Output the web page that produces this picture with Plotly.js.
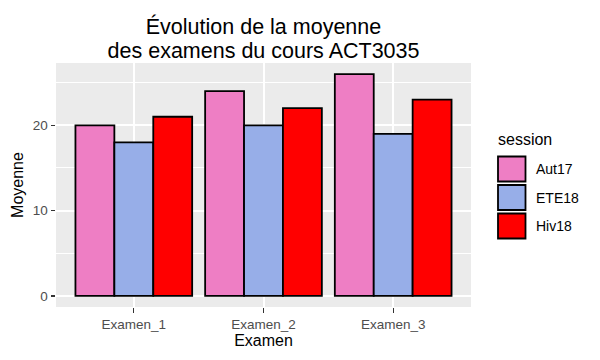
<!DOCTYPE html>
<html>
<head>
<meta charset="utf-8">
<script src="https://cdn.plot.ly/plotly-3.0.1.min.js"></script>
<style>html,body{margin:0;padding:0;background:#fff}#chart{width:600px;height:360px}</style>
</head>
<body>
<div id="chart"></div>
<script>
const examens = ["Examen_1", "Examen_2", "Examen_3"];
const sessions = ["Aut17", "ETE18", "Hiv18"];
const aut17 = [20, 24, 26];
const ete18 = [18, 20, 19];
const hiv18 = [21, 22, 23];
const colors = ["#EE7EC4", "#97AEE8", "#FF0000"];
const series = [aut17, ete18, hiv18];
const titleLines = ["Évolution de la moyenne", "des examens du cours ACT3035"];

const W = 600, H = 360;
const L = 56, R = 129, T = 63, B = 53;
const pw = W - L - R, ph = H - T - B;
const px = x => (x - L) / pw;
const py = y => (H - B - y) / ph;
const FONT = "Liberation Sans, Arial, sans-serif";

const traces = series.map((vals, i) => ({
  type: "bar",
  x: examens,
  y: vals,
  name: sessions[i],
  marker: {color: colors[i], line: {color: "#000", width: 1.8}},
  showlegend: false,
  hoverinfo: "x+y+name"
}));

const shapes = [];
const annotations = [];
annotations.push({
  xref: "paper", yref: "paper", x: px(496), y: py(139),
  xanchor: "left", yanchor: "middle", showarrow: false,
  text: "session", font: {family: FONT, size: 16, color: "#000"}
});
sessions.forEach((s, i) => {
  const top = 156.5 + i * 28.5;
  shapes.push({
    type: "rect", xref: "paper", yref: "paper",
    x0: px(498), x1: px(525.5), y0: py(top + 25), y1: py(top),
    fillcolor: colors[i], line: {color: "#000", width: 1.8}
  });
  annotations.push({
    xref: "paper", yref: "paper", x: px(534), y: py(top + 12.5),
    xanchor: "left", yanchor: "middle", showarrow: false,
    text: s, font: {family: FONT, size: 14, color: "#000"}
  });
});

const layout = {
  width: W, height: H,
  margin: {l: L, r: R, t: T, b: B, pad: 0},
  paper_bgcolor: "#fff",
  plot_bgcolor: "#EBEBEB",
  font: {family: FONT},
  title: {
    text: titleLines.map(t => '<span style="font-size:21.5px">' + t + '</span>').join("<br>"),
    xref: "paper", x: 0.5, xanchor: "center",
    yref: "container", y: 1 - 34 / H, yanchor: "middle",
    font: {size: 18.3, color: "#000"}
  },
  barmode: "group",
  bargap: 0.1,
  bargroupgap: 0,
  xaxis: {
    type: "category",
    range: [-0.6, 2.6],
    showgrid: true, gridcolor: "#fff", gridwidth: 2,
    zeroline: false, showline: false,
    ticks: "outside", ticklen: 4.5, tickwidth: 1.2, tickcolor: "#333",
    tickfont: {size: 13.5, color: "#4D4D4D"},
    title: {text: "Examen", font: {size: 16, color: "#000"}, standoff: 3},
    fixedrange: true
  },
  yaxis: {
    range: [-1.3, 27.3],
    tickvals: [0, 10, 20],
    ticktext: ["0", "10", "20"],
    showgrid: true, gridcolor: "#fff", gridwidth: 2,
    minor: {tickvals: [5, 15, 25], showgrid: true, gridcolor: "#fff", gridwidth: 1, ticks: ""},
    zeroline: false, showline: false,
    ticks: "outside", ticklen: 4.5, tickwidth: 1.2, tickcolor: "#333",
    tickfont: {size: 13.5, color: "#4D4D4D"},
    title: {text: "Moyenne", font: {size: 16, color: "#000"}, standoff: 5},
    fixedrange: true
  },
  shapes: shapes,
  annotations: annotations
};

Plotly.newPlot("chart", traces, layout, {displayModeBar: false, staticPlot: true});
</script>
</body>
</html>
